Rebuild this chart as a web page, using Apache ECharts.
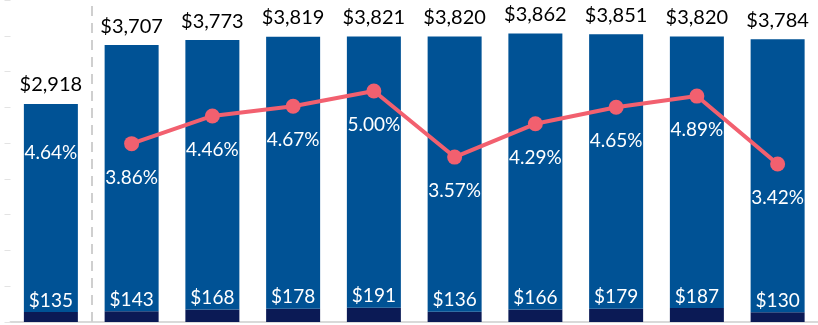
<!DOCTYPE html>
<html>
<head>
<meta charset="utf-8">
<script src="https://cdn.jsdelivr.net/npm/echarts@6/dist/echarts.min.js"></script>
<style>
  html, body { margin: 0; padding: 0; background: #fff; }
  #chart { width: 818px; height: 325px; }
</style>
</head>
<body>
<div id="chart"></div>
<script>
// Periods: a baseline column, then nine periods
const categories = ['Base', 'P1', 'P2', 'P3', 'P4', 'P5', 'P6', 'P7', 'P8', 'P9'];
// Total amount per period (label above each column)
const totals = [2918, 3707, 3773, 3819, 3821, 3820, 3862, 3851, 3820, 3784];
// Portion shown as the dark base segment
const baseValues = [135, 143, 168, 178, 191, 136, 166, 179, 187, 130];
// Rate per period (%); the baseline rate has no trend point
const baselineRate = 4.64;
const rates = [null, 3.86, 4.46, 4.67, 5.00, 3.57, 4.29, 4.65, 4.89, 3.42];

const restValues = totals.map((t, i) => t - baseValues[i]);
const money = v => '$' + v.toLocaleString('en-US');
const pct = v => v.toFixed(2) + '%';

const FONT = 'Lato';
const chart = echarts.init(document.getElementById('chart'), null, { renderer: 'canvas' });

chart.setOption({
  animation: false,
  textStyle: { fontFamily: FONT },
  grid: { left: 10.5, right: -2.5, top: 0, bottom: 3 },
  xAxis: [
    {
      type: 'category',
      data: categories,
      axisLine: { show: true, lineStyle: { color: '#d9d9d9', width: 2 } },
      axisTick: { show: false },
      axisLabel: { show: false },
      splitLine: { show: false }
    },
    // continuous helper axis spanning the same columns (column i covers [i, i+1])
    { type: 'value', min: 0, max: categories.length, show: false, splitLine: { show: false } }
  ],
  yAxis: [
    { type: 'value', min: 0, max: 4310, show: false, splitLine: { show: false } },
    { type: 'value', min: 0, max: 6.97, show: false, splitLine: { show: false } },
    {
      type: 'value', min: 0, max: 9, interval: 1, position: 'left',
      axisLine: { show: false },
      axisLabel: { show: false },
      splitLine: { show: false },
      axisTick: { show: true, length: 6, lineStyle: { color: '#e3e3e3', width: 1 } }
    }
  ],
  series: [
    {
      type: 'bar', stack: 'amt', yAxisIndex: 0, barWidth: 54,
      data: baseValues,
      itemStyle: { color: '#0b1a55' },
      label: {
        show: true, position: 'top', distance: 2,
        color: '#ffffff', fontSize: 19, fontFamily: FONT,
        formatter: p => money(p.value)
      }
    },
    {
      type: 'bar', stack: 'amt', yAxisIndex: 0, barWidth: 54,
      data: restValues,
      itemStyle: { color: '#005295' },
      label: {
        show: true, position: 'top', distance: 9,
        color: '#000000', fontSize: 20, fontFamily: FONT,
        formatter: p => money(totals[p.dataIndex])
      }
    },
    {
      type: 'line', yAxisIndex: 1,
      data: rates,
      symbol: 'circle', symbolSize: 15,
      lineStyle: { color: '#f2606f', width: 4 },
      itemStyle: { color: '#f2606f' },
      label: {
        show: true, position: 'bottom', distance: 17,
        color: '#ffffff', fontSize: 19, fontFamily: FONT,
        formatter: p => pct(p.value)
      },
      z: 5
    },
    {
      // baseline rate: label only, plus the divider after the baseline column
      type: 'scatter', xAxisIndex: 1, yAxisIndex: 1,
      data: [[0.5, baselineRate]],
      symbolSize: 15,
      itemStyle: { color: 'rgba(0,0,0,0)', opacity: 1 },
      label: {
        show: true, position: 'bottom', distance: 28, opacity: 1,
        color: '#ffffff', fontSize: 19, fontFamily: FONT,
        formatter: p => pct(p.value[1])
      },
      markLine: {
        silent: true,
        symbol: 'none',
        label: { show: false },
        lineStyle: { color: '#cfcfcf', width: 2, type: [10, 7] },
        data: [{ xAxis: 1 }]
      },
      z: 5
    }
  ]
});
</script>
</body>
</html>
